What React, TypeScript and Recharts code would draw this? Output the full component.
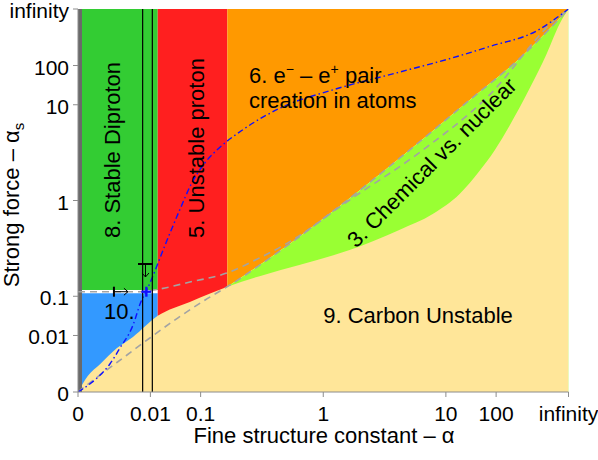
import React from "react";
import { ComposedChart, Area, Line, XAxis, YAxis, ReferenceDot } from "recharts";

// both axes use the same squashed log scale: 0 .. infinity
const TICK_VALUES = [0, 0.01, 0.1, 1, 10, 100, Infinity];
const TICK_LABELS = ["0", "0.01", "0.1", "1", "10", "100", "infinity"];

// upper edge of 9. Carbon Unstable (alpha, alpha_s)
const carbonAlpha = [0, 1e-16, 9e-8, 1.2e-4, 1.9e-3, 0.0164, 0.071, 0.128, 0.197, 0.37, 0.71, 1.48, 3.42, 6.98, 15.6, 36.2, 91.3, 326, 9280, 1.2e7, 2.5e17, Infinity];
const carbonStrong = [0, 3e-8, 5e-5, 2.2e-3, 8.7e-3, 0.041, 0.08, 0.11, 0.14, 0.193, 0.262, 0.371, 0.57, 0.774, 1.131, 1.765, 2.75, 5.01, 21.1, 382, 1.2e8, Infinity];

// lower gray dashed curve, also the border between 6. and 3.
const nuclearAlpha = [0, 8.8e-8, 8.3e-4, 9.6e-3, 0.0455, 0.114, 0.197, 0.528, 1.276, 3.42, 23.1, 1344, Infinity];
const nuclearStrong = [0, 7.5e-8, 6.4e-4, 7.8e-3, 0.0367, 0.0865, 0.14, 0.371, 0.901, 2.31, 12.1, 228, Infinity];

// upper gray dashed curve
const upperAlpha = [0, 0.004, 0.0164, 0.071, 0.194, 0.37, 0.58, 1.48, 5.1, 64, 5e9, Infinity];
const upperStrong = [0.118, 0.118, 0.128, 0.162, 0.21, 0.31, 0.43, 1.01, 2.6, 15, 2e9, Infinity];

// blue dash-dot curve
const blueAlpha = [0, 6.5e-9, 1.5e-5, 2.3e-4, 1.9e-3, 4.5e-3, 7.1e-3, 0.0113, 0.0247, 0.049, 0.076, 0.114, 0.178, 0.27, 0.54, 1.15, 3.4, 11, 64, 6.2e4, Infinity];
const blueStrong = [0, 2.1e-9, 5.3e-5, 2.2e-3, 0.023, 0.08, 0.118, 0.183, 0.41, 0.84, 1.4, 2.1, 3.1, 4.5, 9.2, 19, 57, 204, 1400, 3e5, Infinity];

const EDGE_ALPHA = 1e-39; // dark strip at alpha ~ 0
const DIPROTON_ALPHA = 0.0164; // 8./10. | 5.
const PROTON_ALPHA = 0.197; // 5. | 6./3.
const DIPROTON_STRONG = 0.125; // bottom of 8.
const REGION10_STRONG = 0.112; // top of 10.
const LIMIT_ALPHAS = [0.0053, 0.0115];
const OUR_ALPHA = 1 / 137;
const OUR_STRONG = 0.118;
const ARROW_RIGHT = { alpha: 5.4e-5, strong: 0.118 };
const ARROW_DOWN = { alpha: 0.0068, strong: 0.267 };

const GREEN = "#33cc33";
const RED = "#ff1f1f";
const ORANGE = "#ff9900";
const LIME = "#99ff33";
const YELLOW = "#ffe699";
const BLUE = "#3399ff";
const EDGE = "#6a6a6a";
const DASH = "#a3a3a3";
const AXIS = "#8c8c8c";
const FONT = '"Liberation Sans", Arial, Helvetica, sans-serif';

const toAxis = (v: number) => {
  if (v <= 0) return 0;
  if (!isFinite(v)) return 1;
  return 0.5 + Math.atan(Math.log10(v)) / Math.PI;
};

const TICKS = TICK_VALUES.map(toAxis);
const fmt = (v: number) => TICK_LABELS[TICKS.indexOf(v)] ?? "";

const points = (xs: number[], ys: number[]) => xs.map((a, i) => ({ u: toAxis(a), v: toAxis(ys[i]) }));
const strip = (x1: number, x2: number, lo: number, hi: number) =>
  [x1, x2].map((a) => ({ u: toAxis(a), r: [toAxis(lo), toAxis(hi)] }));
const under = (xs: number[], ys: number[]) => xs.map((a, i) => ({ u: toAxis(a), r: [0, toAxis(ys[i])] }));
const over = (xs: number[], ys: number[]) => xs.map((a, i) => ({ u: toAxis(a), r: [toAxis(ys[i]), 1] }));

const cut = nuclearAlpha.indexOf(PROTON_ALPHA);
const sixAlpha = nuclearAlpha.slice(cut);
const sixStrong = nuclearStrong.slice(cut);

const XTick = (p: any) => (
  <text x={p.x} y={p.y + 23.5} textAnchor="middle" fontSize={21} fill="#000">{fmt(p.payload.value)}</text>
);
const YTick = (p: any) => (
  <text x={p.x} y={p.y + 9} textAnchor="end" fontSize={21} fill="#000">{fmt(p.payload.value)}</text>
);

const CrossMark = (p: any) => (
  <g stroke="#1010ff" strokeWidth={2.4}>
    <line x1={p.cx - 5} y1={p.cy} x2={p.cx + 5} y2={p.cy} />
    <line x1={p.cx} y1={p.cy - 5} x2={p.cx} y2={p.cy + 5} />
  </g>
);

const RightArrow = (p: any) => (
  <g stroke="#000" fill="none">
    <line x1={p.cx} y1={p.cy - 5} x2={p.cx} y2={p.cy + 5} strokeWidth={2} />
    <line x1={p.cx} y1={p.cy} x2={p.cx + 14} y2={p.cy} strokeWidth={1} />
    <polyline points={`${p.cx + 10},${p.cy - 3.5} ${p.cx + 14},${p.cy} ${p.cx + 10},${p.cy + 3.5}`} strokeWidth={1} />
  </g>
);

const DownArrow = (p: any) => (
  <g stroke="#000" fill="none">
    <line x1={p.cx - 7.5} y1={p.cy} x2={p.cx + 7.5} y2={p.cy} strokeWidth={2} />
    <line x1={p.cx} y1={p.cy} x2={p.cx} y2={p.cy + 13} strokeWidth={1} />
    <polyline points={`${p.cx - 3.5},${p.cy + 9} ${p.cx},${p.cy + 13} ${p.cx + 3.5},${p.cy + 9}`} strokeWidth={1} />
  </g>
);

const areaProps = { dataKey: "r", stroke: "none", fillOpacity: 1, isAnimationActive: false, activeDot: false } as const;
const lineProps = { dataKey: "v", dot: false, activeDot: false, isAnimationActive: false } as const;

export default function App() {
  return (
    <div style={{ position: "absolute", left: 0, top: 0, width: 598, height: 460, background: "#fff", fontFamily: FONT }}>
      <ComposedChart width={598} height={460} margin={{ top: 9, right: 29.5, bottom: 38, left: 18 }}>
        <XAxis dataKey="u" type="number" domain={[0, 1]} allowDataOverflow ticks={TICKS} interval={0}
          tickSize={5} tickMargin={0} height={30} stroke={AXIS} tick={XTick} />
        <XAxis xAxisId="top" orientation="top" type="number" domain={[0, 1]} allowDataOverflow ticks={TICKS}
          tickFormatter={() => ""} interval={0} tickSize={5} height={0} stroke={AXIS} />
        <YAxis dataKey="v" type="number" domain={[0, 1]} allowDataOverflow ticks={TICKS} interval={0}
          tickSize={5} tickMargin={4} width={60} stroke={AXIS} tick={YTick} />
        <YAxis yAxisId="right" orientation="right" type="number" domain={[0, 1]} allowDataOverflow ticks={TICKS}
          tickFormatter={() => ""} interval={0} tickSize={5} width={0} stroke={AXIS} />

        <Area {...areaProps} type="linear" data={strip(EDGE_ALPHA, DIPROTON_ALPHA, DIPROTON_STRONG, Infinity)} fill={GREEN} />
        <Area {...areaProps} type="linear" data={strip(EDGE_ALPHA, DIPROTON_ALPHA, 0, REGION10_STRONG)} fill={BLUE} />
        <Area {...areaProps} type="linear" data={strip(DIPROTON_ALPHA, PROTON_ALPHA, 0, Infinity)} fill={RED} />
        <Area {...areaProps} type="monotone" data={over(sixAlpha, sixStrong)} fill={ORANGE} />
        <Area {...areaProps} type="monotone" data={under(sixAlpha, sixStrong)} fill={LIME} />
        <Area {...areaProps} type="monotone" data={under(carbonAlpha, carbonStrong)} fill={YELLOW} />
        <Area {...areaProps} type="linear" data={strip(0, EDGE_ALPHA, 0, Infinity)} fill={EDGE} />

        <Line {...lineProps} type="monotone" data={points(nuclearAlpha, nuclearStrong)} stroke={DASH} strokeWidth={1.6} strokeDasharray="7 5" />
        <Line {...lineProps} type="monotone" data={points(upperAlpha, upperStrong)} stroke={DASH} strokeWidth={1.6} strokeDasharray="7 5" />
        <Line {...lineProps} type="monotone" data={points(blueAlpha, blueStrong)} stroke="#1010ff" strokeWidth={1.4} strokeDasharray="6 3 1.5 3" />
        {LIMIT_ALPHAS.map((a) => (
          <Line key={a} {...lineProps} type="linear" data={[{ u: toAxis(a), v: 0 }, { u: toAxis(a), v: 1 }]} stroke="#000" strokeWidth={1.2} />
        ))}

        <ReferenceDot x={toAxis(ARROW_RIGHT.alpha)} y={toAxis(ARROW_RIGHT.strong)} r={1} shape={RightArrow} ifOverflow="visible" />
        <ReferenceDot x={toAxis(ARROW_DOWN.alpha)} y={toAxis(ARROW_DOWN.strong)} r={1} shape={DownArrow} ifOverflow="visible" />
        <ReferenceDot x={toAxis(OUR_ALPHA)} y={toAxis(OUR_STRONG)} r={1} shape={CrossMark} ifOverflow="visible" />
      </ComposedChart>

      <svg width={598} height={460} style={{ position: "absolute", left: 0, top: 0, pointerEvents: "none" }} fontFamily={FONT} fill="#000">
        <text x={324} y={443} textAnchor="middle" fontSize={22}>Fine structure constant – α</text>
        <text transform="translate(19,205) rotate(-90)" textAnchor="middle" fontSize={22}>
          Strong force – α<tspan fontSize={15} dy={5}>s</tspan>
        </text>
        <text transform="translate(120,150) rotate(-90)" textAnchor="middle" fontSize={22}>8. Stable Diproton</text>
        <text transform="translate(204,148) rotate(-90)" textAnchor="middle" fontSize={22}>5. Unstable proton</text>
        <text x={249} y={83} fontSize={22}>
          6. e<tspan fontSize={14} dy={-9}>−</tspan><tspan dy={9}> – e</tspan><tspan fontSize={14} dy={-9}>+</tspan><tspan dy={9}> pair</tspan>
        </text>
        <text x={249} y={108} fontSize={22}>creation in atoms</text>
        <text transform="translate(437,168) rotate(-45)" textAnchor="middle" fontSize={22}>3. Chemical vs. nuclear</text>
        <text x={418} y={323} textAnchor="middle" fontSize={22}>9. Carbon Unstable</text>
        <text x={104} y={319} fontSize={22}>10.</text>
      </svg>
    </div>
  );
}
